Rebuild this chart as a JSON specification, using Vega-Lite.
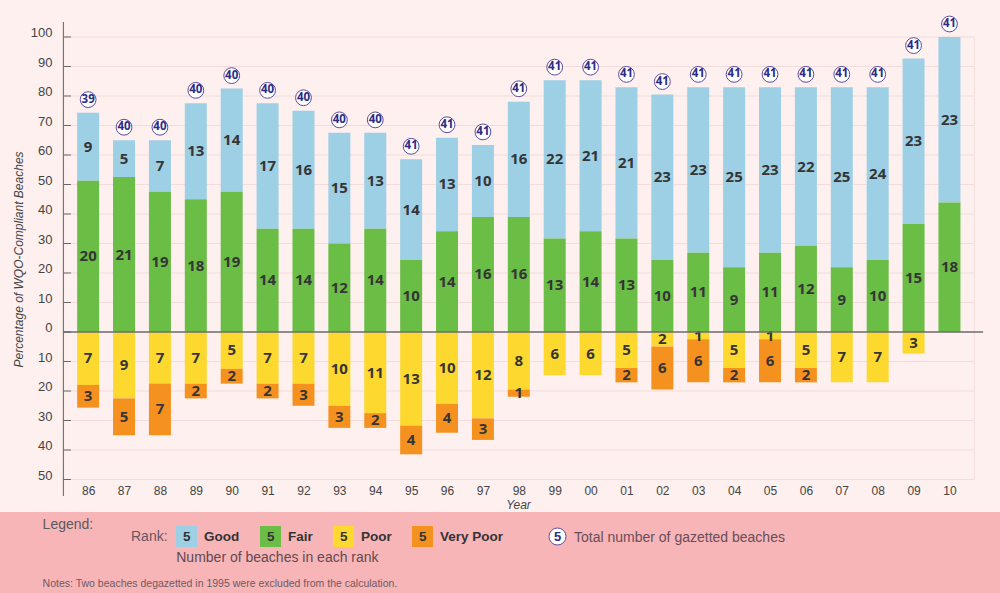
{
  "$schema": "https://vega.github.io/schema/vega-lite/v6.json",
  "width": 1000,
  "height": 593,
  "autosize": {"type": "none"},
  "padding": 0,
  "background": "#FDF0EF",
  "config": {"view": {"stroke": null}, "font": "Liberation Sans", "axis": {"labelOverlap": false}},
  "datasets": {
    "beaches": [
      {"year": 1986, "rank": "Good", "count": 9, "total": 39},
      {"year": 1986, "rank": "Fair", "count": 20, "total": 39},
      {"year": 1986, "rank": "Poor", "count": 7, "total": 39},
      {"year": 1986, "rank": "Very Poor", "count": 3, "total": 39},
      {"year": 1987, "rank": "Good", "count": 5, "total": 40},
      {"year": 1987, "rank": "Fair", "count": 21, "total": 40},
      {"year": 1987, "rank": "Poor", "count": 9, "total": 40},
      {"year": 1987, "rank": "Very Poor", "count": 5, "total": 40},
      {"year": 1988, "rank": "Good", "count": 7, "total": 40},
      {"year": 1988, "rank": "Fair", "count": 19, "total": 40},
      {"year": 1988, "rank": "Poor", "count": 7, "total": 40},
      {"year": 1988, "rank": "Very Poor", "count": 7, "total": 40},
      {"year": 1989, "rank": "Good", "count": 13, "total": 40},
      {"year": 1989, "rank": "Fair", "count": 18, "total": 40},
      {"year": 1989, "rank": "Poor", "count": 7, "total": 40},
      {"year": 1989, "rank": "Very Poor", "count": 2, "total": 40},
      {"year": 1990, "rank": "Good", "count": 14, "total": 40},
      {"year": 1990, "rank": "Fair", "count": 19, "total": 40},
      {"year": 1990, "rank": "Poor", "count": 5, "total": 40},
      {"year": 1990, "rank": "Very Poor", "count": 2, "total": 40},
      {"year": 1991, "rank": "Good", "count": 17, "total": 40},
      {"year": 1991, "rank": "Fair", "count": 14, "total": 40},
      {"year": 1991, "rank": "Poor", "count": 7, "total": 40},
      {"year": 1991, "rank": "Very Poor", "count": 2, "total": 40},
      {"year": 1992, "rank": "Good", "count": 16, "total": 40},
      {"year": 1992, "rank": "Fair", "count": 14, "total": 40},
      {"year": 1992, "rank": "Poor", "count": 7, "total": 40},
      {"year": 1992, "rank": "Very Poor", "count": 3, "total": 40},
      {"year": 1993, "rank": "Good", "count": 15, "total": 40},
      {"year": 1993, "rank": "Fair", "count": 12, "total": 40},
      {"year": 1993, "rank": "Poor", "count": 10, "total": 40},
      {"year": 1993, "rank": "Very Poor", "count": 3, "total": 40},
      {"year": 1994, "rank": "Good", "count": 13, "total": 40},
      {"year": 1994, "rank": "Fair", "count": 14, "total": 40},
      {"year": 1994, "rank": "Poor", "count": 11, "total": 40},
      {"year": 1994, "rank": "Very Poor", "count": 2, "total": 40},
      {"year": 1995, "rank": "Good", "count": 14, "total": 41},
      {"year": 1995, "rank": "Fair", "count": 10, "total": 41},
      {"year": 1995, "rank": "Poor", "count": 13, "total": 41},
      {"year": 1995, "rank": "Very Poor", "count": 4, "total": 41},
      {"year": 1996, "rank": "Good", "count": 13, "total": 41},
      {"year": 1996, "rank": "Fair", "count": 14, "total": 41},
      {"year": 1996, "rank": "Poor", "count": 10, "total": 41},
      {"year": 1996, "rank": "Very Poor", "count": 4, "total": 41},
      {"year": 1997, "rank": "Good", "count": 10, "total": 41},
      {"year": 1997, "rank": "Fair", "count": 16, "total": 41},
      {"year": 1997, "rank": "Poor", "count": 12, "total": 41},
      {"year": 1997, "rank": "Very Poor", "count": 3, "total": 41},
      {"year": 1998, "rank": "Good", "count": 16, "total": 41},
      {"year": 1998, "rank": "Fair", "count": 16, "total": 41},
      {"year": 1998, "rank": "Poor", "count": 8, "total": 41},
      {"year": 1998, "rank": "Very Poor", "count": 1, "total": 41},
      {"year": 1999, "rank": "Good", "count": 22, "total": 41},
      {"year": 1999, "rank": "Fair", "count": 13, "total": 41},
      {"year": 1999, "rank": "Poor", "count": 6, "total": 41},
      {"year": 2000, "rank": "Good", "count": 21, "total": 41},
      {"year": 2000, "rank": "Fair", "count": 14, "total": 41},
      {"year": 2000, "rank": "Poor", "count": 6, "total": 41},
      {"year": 2001, "rank": "Good", "count": 21, "total": 41},
      {"year": 2001, "rank": "Fair", "count": 13, "total": 41},
      {"year": 2001, "rank": "Poor", "count": 5, "total": 41},
      {"year": 2001, "rank": "Very Poor", "count": 2, "total": 41},
      {"year": 2002, "rank": "Good", "count": 23, "total": 41},
      {"year": 2002, "rank": "Fair", "count": 10, "total": 41},
      {"year": 2002, "rank": "Poor", "count": 2, "total": 41},
      {"year": 2002, "rank": "Very Poor", "count": 6, "total": 41},
      {"year": 2003, "rank": "Good", "count": 23, "total": 41},
      {"year": 2003, "rank": "Fair", "count": 11, "total": 41},
      {"year": 2003, "rank": "Poor", "count": 1, "total": 41},
      {"year": 2003, "rank": "Very Poor", "count": 6, "total": 41},
      {"year": 2004, "rank": "Good", "count": 25, "total": 41},
      {"year": 2004, "rank": "Fair", "count": 9, "total": 41},
      {"year": 2004, "rank": "Poor", "count": 5, "total": 41},
      {"year": 2004, "rank": "Very Poor", "count": 2, "total": 41},
      {"year": 2005, "rank": "Good", "count": 23, "total": 41},
      {"year": 2005, "rank": "Fair", "count": 11, "total": 41},
      {"year": 2005, "rank": "Poor", "count": 1, "total": 41},
      {"year": 2005, "rank": "Very Poor", "count": 6, "total": 41},
      {"year": 2006, "rank": "Good", "count": 22, "total": 41},
      {"year": 2006, "rank": "Fair", "count": 12, "total": 41},
      {"year": 2006, "rank": "Poor", "count": 5, "total": 41},
      {"year": 2006, "rank": "Very Poor", "count": 2, "total": 41},
      {"year": 2007, "rank": "Good", "count": 25, "total": 41},
      {"year": 2007, "rank": "Fair", "count": 9, "total": 41},
      {"year": 2007, "rank": "Poor", "count": 7, "total": 41},
      {"year": 2008, "rank": "Good", "count": 24, "total": 41},
      {"year": 2008, "rank": "Fair", "count": 10, "total": 41},
      {"year": 2008, "rank": "Poor", "count": 7, "total": 41},
      {"year": 2009, "rank": "Good", "count": 23, "total": 41},
      {"year": 2009, "rank": "Fair", "count": 15, "total": 41},
      {"year": 2009, "rank": "Poor", "count": 3, "total": 41},
      {"year": 2010, "rank": "Good", "count": 23, "total": 41},
      {"year": 2010, "rank": "Fair", "count": 18, "total": 41}
    ],
    "gridValues": [
      {"v": -50}, {"v": -40}, {"v": -30}, {"v": -20}, {"v": -10}, {"v": 0},
      {"v": 10}, {"v": 20}, {"v": 30}, {"v": 40}, {"v": 50}, {"v": 60},
      {"v": 70}, {"v": 80}, {"v": 90}, {"v": 100}
    ]
  },
  "layer": [
    {
      "data": {"values": [{}]},
      "mark": {"type": "rect", "color": "#F7B5B8"},
      "encoding": {
        "y": {"datum": -61.02, "type": "quantitative", "scale": {"domain": [-88.475, 112.542], "nice": false, "zero": false}},
        "y2": {"datum": -88.475}
      }
    },
    {
      "data": {"name": "gridValues"},
      "mark": {"type": "rule", "color": "#F3DCDB", "strokeWidth": 1},
      "encoding": {
        "x": {"datum": 1985.311, "type": "quantitative", "scale": {"domain": [1983.683, 2011.269], "nice": false, "zero": false}},
        "x2": {"datum": 2010.69},
        "y": {"field": "v", "type": "quantitative", "scale": {"domain": [-88.475, 112.542], "nice": false, "zero": false}}
      }
    },
    {
      "data": {"values": [{}]},
      "mark": {"type": "rule", "color": "#F3DCDB", "strokeWidth": 1},
      "encoding": {
        "x": {"datum": 2010.69, "type": "quantitative", "scale": {"domain": [1983.683, 2011.269], "nice": false, "zero": false}},
        "y": {"datum": 100, "type": "quantitative", "scale": {"domain": [-88.475, 112.542], "nice": false, "zero": false}},
        "y2": {"datum": -50}
      }
    },
    {
      "data": {"name": "beaches"},
      "transform": [
        {"calculate": "(datum.rank === 'Poor' || datum.rank === 'Very Poor' ? -100 : 100) * datum.count / datum.total", "as": "pct"},
        {"stack": "pct", "groupby": ["year"], "sort": [{"field": "rank", "order": "ascending"}], "offset": "zero", "as": ["lo", "hi"]},
        {"calculate": "(datum.lo + datum.hi) / 2", "as": "mid"}
      ],
      "layer": [
        {
          "mark": {"type": "bar", "width": 22},
          "encoding": {
            "x": {
              "field": "year", "type": "quantitative",
              "scale": {"domain": [1983.683, 2011.269], "nice": false, "zero": false},
              "axis": {
                "orient": "bottom", "offset": -109, "tickCount": 40,
                "values": [1986, 1987, 1988, 1989, 1990, 1991, 1992, 1993, 1994, 1995, 1996, 1997, 1998, 1999, 2000, 2001, 2002, 2003, 2004, 2005, 2006, 2007, 2008, 2009, 2010],
                "labelExpr": "slice('' + datum.value, 2)",
                "domain": false, "ticks": false, "tickSize": 0, "grid": false,
                "labelPadding": 1, "labelFontSize": 12, "labelColor": "#444444",
                "labelFlush": false, "labelOverlap": false,
                "title": "Year", "titleFontStyle": "italic", "titleFontWeight": "normal",
                "titleFontSize": 12, "titleColor": "#444444",
                "titleX": 518, "titleY": 20, "titleAlign": "center", "titleBaseline": "middle"
              }
            },
            "y": {
              "field": "lo", "type": "quantitative",
              "scale": {"domain": [-88.475, 112.542], "nice": false, "zero": false},
              "axis": {
                "orient": "left", "offset": -59, "tickCount": 40,
                "values": [-50, -40, -30, -20, -10, 0, 10, 20, 30, 40, 50, 60, 70, 80, 90, 100],
                "labelExpr": "'' + abs(datum.value)",
                "domain": false, "ticks": false, "tickSize": 0, "grid": false,
                "labelPadding": 7, "labelFontSize": 13, "labelColor": "#444444",
                "labelBaseline": "alphabetic", "labelOverlap": false,
                "title": "Percentage of WQO-Compliant Beaches",
                "titleFontStyle": "italic", "titleFontWeight": "normal",
                "titleFontSize": 12, "titleColor": "#444444",
                "titleX": -41, "titleY": 259, "titleAngle": -90,
                "titleAlign": "center", "titleBaseline": "middle"
              }
            },
            "y2": {"field": "hi"},
            "color": {
              "field": "rank", "type": "nominal",
              "scale": {"domain": ["Good", "Fair", "Poor", "Very Poor"], "range": ["#9DCFE5", "#6ABD45", "#FDD82F", "#F5921F"]},
              "legend": {
                "orient": "none", "legendX": 131, "legendY": 526,
                "direction": "horizontal", "padding": 0,
                "title": "Rank:", "titleOrient": "left", "titlePadding": 8,
                "titleFontWeight": "normal", "titleFontSize": 14, "titleColor": "#6A555C",
                "titleAnchor": "middle", "titleBaseline": "middle",
                "symbolType": "square", "symbolSize": 441, "symbolStrokeWidth": 0,
                "labelExpr": "'5\u2003' + datum.label",
                "labelFontWeight": "bold", "labelFontSize": 13.5, "labelColor": "#333333",
                "labelOffset": -14, "columnPadding": 20, "labelLimit": 200
              }
            }
          }
        },
        {
          "mark": {"type": "text", "font": "Open Sans", "fontWeight": "bold", "fontSize": 15, "color": "#353535", "baseline": "middle"},
          "encoding": {
            "x": {"field": "year", "type": "quantitative", "scale": {"domain": [1983.683, 2011.269], "nice": false, "zero": false}},
            "y": {"field": "mid", "type": "quantitative", "scale": {"domain": [-88.475, 112.542], "nice": false, "zero": false}},
            "text": {"field": "count", "type": "quantitative"}
          }
        },
        {
          "transform": [{"filter": "datum.rank === 'Good'"}],
          "mark": {"type": "point", "shape": "circle", "filled": true, "fill": "#FFFFFF", "size": 250, "strokeWidth": 1, "opacity": 1, "yOffset": -13},
          "encoding": {
            "x": {"field": "year", "type": "quantitative", "scale": {"domain": [1983.683, 2011.269], "nice": false, "zero": false}},
            "y": {"field": "hi", "type": "quantitative", "scale": {"domain": [-88.475, 112.542], "nice": false, "zero": false}},
            "stroke": {
              "datum": "5", "type": "nominal",
              "scale": {"domain": ["5"], "range": ["#5B4B9E"]},
              "legend": {
                "orient": "none", "legendX": 548, "legendY": 527, "padding": 0, "title": null,
                "symbolType": "circle", "symbolSize": 290, "symbolStrokeWidth": 1,
                "labelFontWeight": "bold", "labelFontSize": 13, "labelColor": "#2C2B85",
                "labelOffset": -13,
                "encode": {"symbols": {"update": {"fill": {"value": "transparent"}, "stroke": {"value": "#5B4B9E"}}}}
              }
            },
            "shape": {
              "datum": "Total number of gazetted beaches", "type": "nominal",
              "scale": {"domain": ["Total number of gazetted beaches"], "range": ["circle"]},
              "legend": {
                "orient": "none", "legendX": 560, "legendY": 531, "padding": 0, "title": null,
                "symbolSize": 4, "symbolOpacity": 0, "symbolFillColor": "transparent", "symbolStrokeColor": "transparent", "symbolStrokeWidth": 0,
                "labelOffset": 0, "labelFontSize": 14, "labelColor": "#6A4D58", "labelLimit": 400,
                "encode": {"symbols": {"update": {"opacity": {"value": 0}, "fill": {"value": "transparent"}, "stroke": {"value": "transparent"}}}}
              }
            }
          }
        },
        {
          "transform": [{"filter": "datum.rank === 'Good'"}],
          "mark": {"type": "text", "font": "Open Sans", "fontWeight": "bold", "fontSize": 11.5, "color": "#2C2B85", "baseline": "middle", "yOffset": -13},
          "encoding": {
            "x": {"field": "year", "type": "quantitative", "scale": {"domain": [1983.683, 2011.269], "nice": false, "zero": false}},
            "y": {"field": "hi", "type": "quantitative", "scale": {"domain": [-88.475, 112.542], "nice": false, "zero": false}},
            "text": {"field": "total", "type": "quantitative"}
          }
        }
      ]
    },
    {
      "data": {"values": [{}]},
      "mark": {"type": "rule", "color": "#6E6E6E", "strokeWidth": 1.6},
      "encoding": {
        "x": {"datum": 1985.311, "type": "quantitative", "scale": {"domain": [1983.683, 2011.269], "nice": false, "zero": false}},
        "x2": {"datum": 2010.938},
        "y": {"datum": 0, "type": "quantitative", "scale": {"domain": [-88.475, 112.542], "nice": false, "zero": false}}
      }
    },
    {
      "data": {"values": [{}]},
      "mark": {"type": "rule", "color": "#777777", "strokeWidth": 1.2},
      "encoding": {
        "x": {"datum": 1985.311, "type": "quantitative", "scale": {"domain": [1983.683, 2011.269], "nice": false, "zero": false}},
        "y": {"datum": 105.08, "type": "quantitative", "scale": {"domain": [-88.475, 112.542], "nice": false, "zero": false}},
        "y2": {"datum": -55.6}
      }
    },
    {
      "data": {"name": "gridValues"},
      "mark": {"type": "rule", "color": "#666666", "strokeWidth": 1},
      "encoding": {
        "x": {"datum": 1985.311, "type": "quantitative", "scale": {"domain": [1983.683, 2011.269], "nice": false, "zero": false}},
        "x2": {"datum": 1985.52},
        "y": {"field": "v", "type": "quantitative", "scale": {"domain": [-88.475, 112.542], "nice": false, "zero": false}}
      }
    },
    {
      "data": {"values": [{}]},
      "mark": {"type": "text", "align": "left", "baseline": "middle", "fontSize": 14, "color": "#5A5A5A"},
      "encoding": {
        "x": {"datum": 1984.731, "type": "quantitative", "scale": {"domain": [1983.683, 2011.269], "nice": false, "zero": false}},
        "y": {"datum": -65.42, "type": "quantitative", "scale": {"domain": [-88.475, 112.542], "nice": false, "zero": false}},
        "text": {"value": "Legend:"}
      }
    },
    {
      "data": {"values": [{}]},
      "mark": {"type": "text", "align": "left", "baseline": "middle", "fontSize": 14, "color": "#5E4A52"},
      "encoding": {
        "x": {"datum": 1988.455, "type": "quantitative", "scale": {"domain": [1983.683, 2011.269], "nice": false, "zero": false}},
        "y": {"datum": -76.61, "type": "quantitative", "scale": {"domain": [-88.475, 112.542], "nice": false, "zero": false}},
        "text": {"value": "Number of beaches in each rank"}
      }
    },
    {
      "data": {"values": [{}]},
      "mark": {"type": "text", "align": "left", "baseline": "middle", "fontSize": 10.5, "color": "#6E5A62"},
      "encoding": {
        "x": {"datum": 1984.731, "type": "quantitative", "scale": {"domain": [1983.683, 2011.269], "nice": false, "zero": false}},
        "y": {"datum": -85.42, "type": "quantitative", "scale": {"domain": [-88.475, 112.542], "nice": false, "zero": false}},
        "text": {"value": "Notes: Two beaches degazetted in 1995 were excluded from the calculation."}
      }
    }
  ]
}
